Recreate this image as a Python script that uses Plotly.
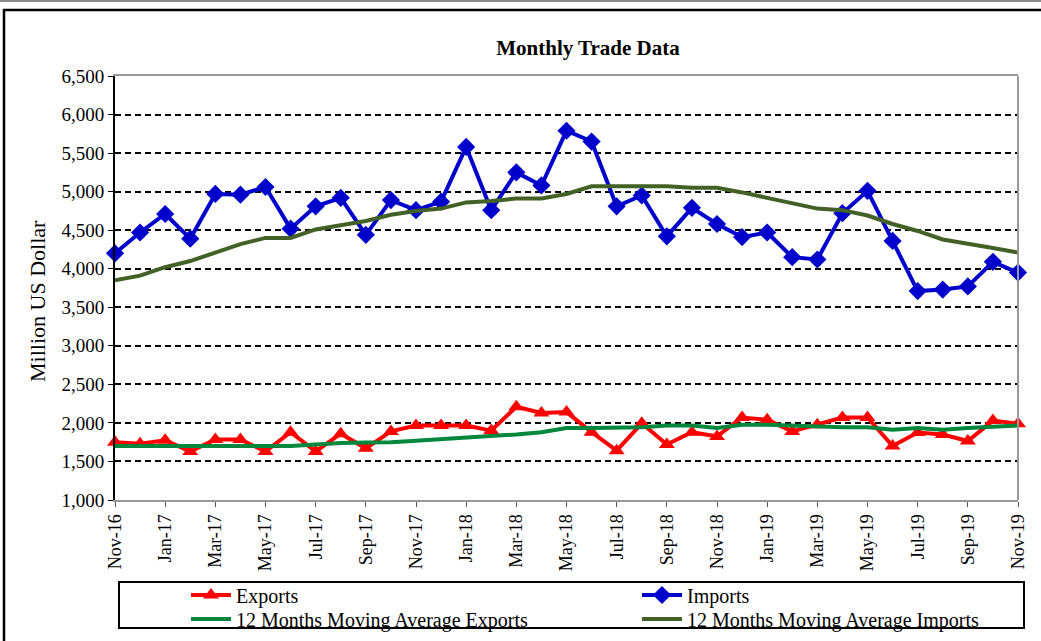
import plotly.graph_objects as go

months = ["Nov-16","Dec-16","Jan-17","Feb-17","Mar-17","Apr-17","May-17","Jun-17","Jul-17","Aug-17","Sep-17","Oct-17",
          "Nov-17","Dec-17","Jan-18","Feb-18","Mar-18","Apr-18","May-18","Jun-18","Jul-18","Aug-18","Sep-18","Oct-18",
          "Nov-18","Dec-18","Jan-19","Feb-19","Mar-19","Apr-19","May-19","Jun-19","Jul-19","Aug-19","Sep-19","Oct-19","Nov-19"]

imports = [4200,4470,4710,4390,4970,4960,5060,4520,4810,4920,4440,4890,
           4760,4870,5580,4760,5250,5080,5790,5650,4810,4950,4420,4790,
           4580,4410,4470,4150,4120,4720,5010,4360,3710,3730,3770,4090,3950]

ma_imports = [3850,3910,4020,4100,4210,4320,4400,4400,4510,4560,4620,4700,
              4750,4780,4860,4880,4910,4910,4970,5070,5070,5070,5070,5050,
              5050,4990,4920,4860,4780,4760,4690,4580,4490,4380,4330,4270,4210]

exports = [1750,1730,1775,1630,1785,1785,1630,1880,1630,1860,1670,1890,
           1965,1965,1965,1900,2210,2130,2140,1880,1640,1995,1720,1880,
           1825,2070,2040,1890,1975,2070,2070,1700,1875,1850,1765,2030,1990]

ma_exports = [1700,1700,1700,1700,1700,1700,1700,1700,1720,1740,1745,1750,
              1770,1790,1800,1820,1850,1880,1935,1935,1940,1945,1965,1965,
              1935,1975,1975,1965,1945,1945,1945,1910,1935,1910,1935,1945,1965]

tick_labels = months[::2]

FONT = "Liberation Serif"

fig = go.Figure()
fig.add_trace(go.Scatter(x=months, y=exports, name="Exports", mode="lines+markers",
                         line=dict(color="#FF0000", width=4),
                         marker=dict(symbol="triangle-up", size=14, color="#FF0000"),
                         cliponaxis=False, legend="legend"))
fig.add_trace(go.Scatter(x=months, y=imports, name="Imports", mode="lines+markers",
                         line=dict(color="#0000CC", width=4),
                         marker=dict(symbol="diamond", size=14, color="#0000CC"),
                         cliponaxis=False, legend="legend2"))
fig.add_trace(go.Scatter(x=months, y=ma_exports, name="12 Months Moving Average Exports", mode="lines",
                         line=dict(color="#00873E", width=4), cliponaxis=False, legend="legend3"))
fig.add_trace(go.Scatter(x=months, y=ma_imports, name="12 Months Moving Average Imports", mode="lines",
                         line=dict(color="#436127", width=4), cliponaxis=False, legend="legend4"))

L, R, T, B = 115, 1018, 76, 500
W, H = 1041, 641

def px(x):
    return (x - L) / (R - L)

def py(y):
    return (B - y) / (B - T)

leg_common = dict(orientation="v", xanchor="left", yanchor="middle",
                  font=dict(size=20, family=FONT), bgcolor="rgba(0,0,0,0)",
                  tracegroupgap=0, itemwidth=40)

fig.update_layout(
    width=W, height=H,
    margin=dict(l=L, r=W - R, t=T, b=H - B, autoexpand=False),
    paper_bgcolor="white", plot_bgcolor="white",
    font=dict(family=FONT, color="black", size=18),
    title=dict(text="<b>Monthly Trade Data</b>", x=px(588), xref="paper", xanchor="center",
               y=1 - 48 / H, yanchor="middle", font=dict(size=21, family=FONT)),
    showlegend=True,
    legend=dict(x=px(186), y=py(595), **leg_common),
    legend2=dict(x=px(637), y=py(595), **leg_common),
    legend3=dict(x=px(186), y=py(619), **leg_common),
    legend4=dict(x=px(637), y=py(619), **leg_common),
    xaxis=dict(type="category", categoryorder="array", categoryarray=months,
               range=[0, len(months) - 1], tickmode="array", tickvals=tick_labels,
               ticktext=tick_labels, tickangle=-90, ticks="outside", ticklen=5,
               tickcolor="#555", showline=True, linecolor="#999", linewidth=2, mirror=True,
               showgrid=False, tickfont=dict(size=18, family=FONT)),
    yaxis=dict(range=[1000, 6500], dtick=500, tickformat=",", ticks="outside", ticklen=5,
               tickcolor="black", showline=True, linecolor="black", linewidth=2,
               showgrid=True, gridcolor="black", griddash="6px,4px", gridwidth=2,
               zeroline=False, tickfont=dict(size=19, family=FONT)),
    annotations=[dict(text="Million US Dollar", textangle=-90, xref="paper", yref="paper",
                      x=px(37), y=py(301), xanchor="center", yanchor="middle", showarrow=False,
                      font=dict(size=22, family=FONT))],
)

shapes = [
    # right plot border (gray)
    dict(type="line", xref="paper", yref="paper", x0=1, x1=1, y0=0, y1=1,
         line=dict(color="#999", width=2)),
    # legend box
    dict(type="rect", xref="paper", yref="paper", x0=px(119), x1=px(1024), y0=py(582), y1=py(628),
         line=dict(color="black", width=2), fillcolor="rgba(0,0,0,0)", layer="below"),
    # outer chart frame
    dict(type="rect", xref="paper", yref="paper", x0=px(4), x1=px(1060), y0=py(660), y1=py(10),
         line=dict(color="black", width=2.5), fillcolor="rgba(0,0,0,0)", layer="below"),
    # top gray line of page
    dict(type="line", xref="paper", yref="paper", x0=px(0), x1=px(1041), y0=py(1), y1=py(1),
         line=dict(color="#666", width=1.5)),
]
fig.update_layout(shapes=shapes)

fig.write_html("out.html", config={"displayModeBar": False},
               post_script="document.body.style.margin='0px';document.body.style.overflow='hidden';")
